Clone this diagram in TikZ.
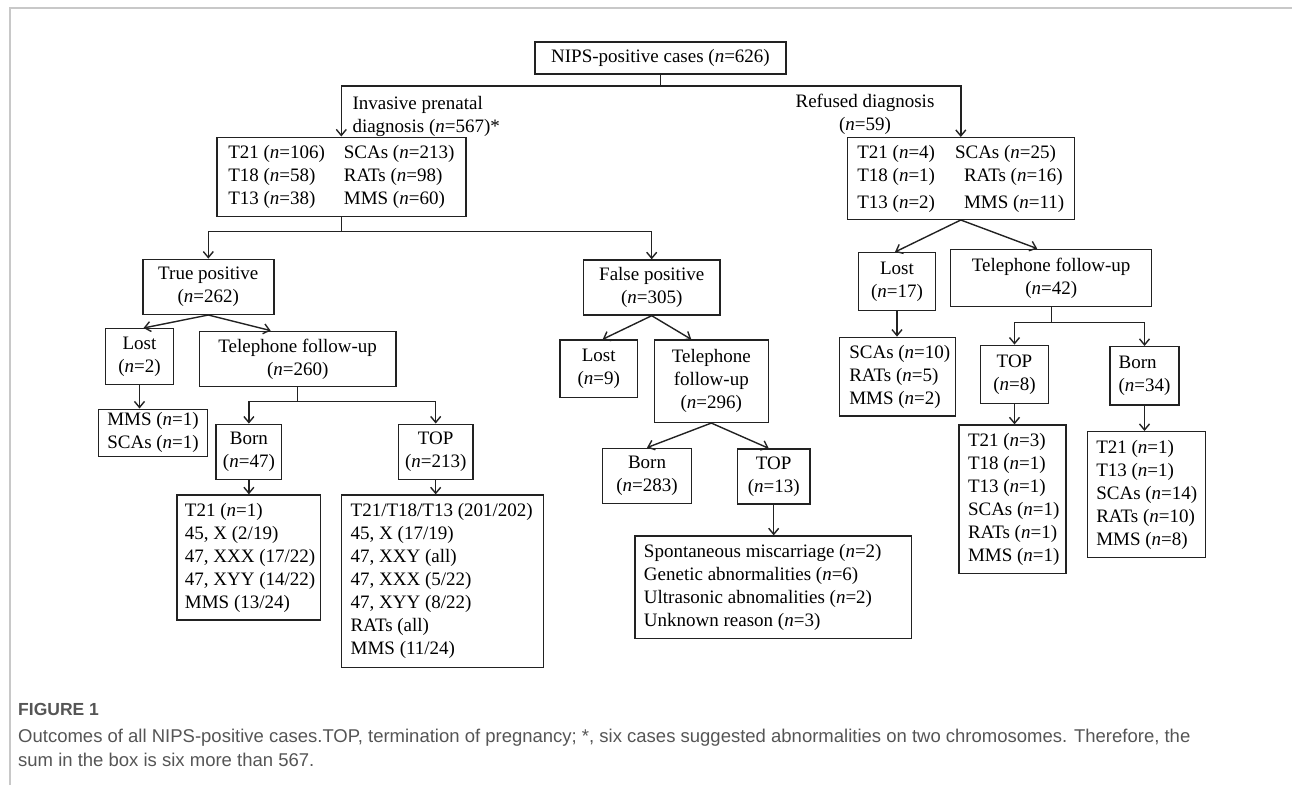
\documentclass[tikz,border=0pt]{standalone}
\usepackage{fontspec}
\setmainfont{Liberation Serif}
\newfontfamily\capfont{Liberation Sans}
\usetikzlibrary{arrows.meta,calc}
\newcommand{\Nn}[1]{(\textit{n}=#1)}
\newcommand{\boxlines}[2]{\makebox[#1][l]{\begin{tabular}{@{}l@{}}#2\end{tabular}}}
\definecolor{capgray}{HTML}{555555}
\definecolor{framegray}{HTML}{C8C8C8}
\definecolor{ink}{HTML}{222222}
\begin{document}
\begin{tikzpicture}[x=1pt,y=-1pt,
  box/.style={draw=ink, line width=1.4pt, inner sep=0pt, align=center, text=black,
              font=\fontsize{19}{23}\selectfont},
  lbox/.style={box, inner xsep=9pt, inner ysep=0pt},
  lbl/.style={inner sep=0pt, text=black, font=\fontsize{19}{23}\selectfont},
  ln/.style={draw=ink, line width=1.4pt},
  arr/.style={ln, -{Straight Barb[length=6pt,width=10pt]}},
  captext/.style={inner sep=0pt, text=capgray, anchor=base west}]
\useasboundingbox (0,0) rectangle (1292,785);
\draw[framegray, line width=2pt] (9.5,785) -- (9.5,7.5) -- (1292,7.5);

% top level
\node[box, minimum width=251pt, minimum height=32pt] (top) at (660.5,58) {NIPS-positive cases \Nn{626}};
\node[box, minimum width=249pt, minimum height=79pt] (inv) at (341.3,176.7)
  {\begin{tabular}{@{}p{115.6pt}@{}l@{}}T21 \Nn{106} & SCAs \Nn{213}\\ T18 \Nn{58} & RATs \Nn{98}\\ T13 \Nn{38} & MMS \Nn{60}\end{tabular}};
\node[box, minimum width=227pt, minimum height=81.6pt] (ref) at (960.8,178.5)
  {\begin{tabular}{@{}p{97.7pt}@{}l@{}}T21 \Nn{4} & SCAs \Nn{25}\\ T18 \Nn{1} & \hspace{9pt}RATs \Nn{16}\\[4pt] T13 \Nn{2} & \hspace{9pt}MMS \Nn{11}\end{tabular}};
\node[lbl, anchor=base west] (invlbl) at (352.3,109.3)
  {\begin{tabular}[t]{@{}l@{}}Invasive prenatal\\ diagnosis \Nn{567}*\end{tabular}};
\node[lbl, anchor=base] (reflbl) at (865,107.3)
  {\begin{tabular}[t]{@{}c@{}}Refused diagnosis\\ \Nn{59}\end{tabular}};

% true positive branch
\node[box, minimum width=131pt, minimum height=55pt] (tp) at (208.3,286.8) {True positive\\ \Nn{262}};
\node[box, minimum width=67.6pt, minimum height=55.6pt] (tp_lost) at (139.5,356.5) {Lost\\ \Nn{2}};
\node[box, minimum width=196.7pt, minimum height=55.4pt] (tp_tel) at (297.7,359) {Telephone follow-up\\ \Nn{260}};
\node[lbox, minimum height=47pt] (tp_mms) at (152.8,432.7)
  {\boxlines{91pt}{MMS \Nn{1}\\ SCAs \Nn{1}}};
\node[box, minimum width=65.7pt, minimum height=55pt] (tp_born) at (248.9,451.8) {Born\\ \Nn{47}};
\node[box, minimum width=74.7pt, minimum height=55pt] (tp_top) at (435.7,451.7) {TOP\\ \Nn{213}};
\node[lbox, minimum height=125pt, inner xsep=8pt] (tp_bornlist) at (248.8,557.5)
  {\boxlines{127.7pt}{T21 \Nn{1}\\ 45, X (2/19)\\ 47, XXX (17/22)\\ 47, XYY (14/22)\\ MMS (13/24)}};
\node[lbox, minimum height=172.3pt] (tp_toplist) at (442.5,581.2)
  {\boxlines{183.6pt}{T21/T18/T13 (201/202)\\ 45, X (17/19)\\ 47, XXY (all)\\ 47, XXX (5/22)\\ 47, XYY (8/22)\\ RATs (all)\\ MMS (11/24)}};

% false positive branch
\node[box, minimum width=136.7pt, minimum height=55pt] (fp) at (651.7,287.5) {False positive\\ \Nn{305}};
\node[box, minimum width=77.3pt, minimum height=57.7pt] (fp_lost) at (598.7,368.8) {Lost\\ \Nn{9}};
\node[box, minimum width=114pt, minimum height=82.3pt] (fp_tel) at (711.3,381.2) {Telephone\\ follow-up\\ \Nn{296}};
\node[box, minimum width=89.4pt, minimum height=55pt] (fp_born) at (647,475.8) {Born\\ \Nn{283}};
\node[box, minimum width=72.7pt, minimum height=55pt] (fp_top) at (773.7,476.5) {TOP\\ \Nn{13}};
\node[lbox, minimum height=102.3pt] (fp_reason) at (773.2,587.2)
  {\boxlines{258.5pt}{Spontaneous miscarriage \Nn{2}\\ Genetic abnormalities \Nn{6}\\ Ultrasonic abnomalities \Nn{2}\\ Unknown reason \Nn{3}}};

% refused branch
\node[box, minimum width=77.4pt, minimum height=58pt] (ref_lost) at (897,281.7) {Lost\\ \Nn{17}};
\node[box, minimum width=201pt, minimum height=57.4pt] (ref_tel) at (1051.2,278) {Telephone follow-up\\ \Nn{42}};
\node[lbox, minimum height=78.7pt, inner xsep=10pt] (ref_lostlist) at (897.5,376.7)
  {\boxlines{96.4pt}{SCAs \Nn{10}\\ RATs \Nn{5}\\ MMS \Nn{2}}};
\node[box, minimum width=67.6pt, minimum height=58pt] (ref_top) at (1014.5,374.3) {TOP\\ \Nn{8}};
\node[box, minimum width=69pt, minimum height=58.3pt, align=left] (ref_born) at (1144.5,375.8) {Born\\ \Nn{34}};
\node[lbox, minimum height=148.3pt] (ref_toplist) at (1012.5,499.2)
  {\boxlines{89pt}{T21 \Nn{3}\\ T18 \Nn{1}\\ T13 \Nn{1}\\ SCAs \Nn{1}\\ RATs \Nn{1}\\ MMS \Nn{1}}};
\node[lbox, minimum height=125.6pt] (ref_bornlist) at (1146.5,494.5)
  {\boxlines{100.4pt}{T21 \Nn{1}\\ T13 \Nn{1}\\ SCAs \Nn{14}\\ RATs \Nn{10}\\ MMS \Nn{8}}};

% connectors: top level
\coordinate (j1) at (660.5,86);
\draw[ln] (top.south) -- (j1);
\draw[arr] (j1) -| (inv.north);
\draw[arr] (j1) -| (ref.north);
\coordinate (j2) at (341.3,231.7);
\draw[ln] (inv.south) -- (j2);
\draw[arr] (j2) -| (tp.north);
\draw[arr] (j2) -| (fp.north);

% true positive
\draw[arr] (tp.south) -- ([xshift=4pt]tp_lost.north);
\draw[arr] (tp.south) -- ([xshift=72pt]tp_tel.north west);
\draw[arr] (tp_lost.south) -- (tp_lost.south |- tp_mms.north);
\coordinate (j3) at (297.7,401.7);
\draw[ln] (tp_tel.south) -- (j3);
\draw[arr] (j3) -| (tp_born.north);
\draw[arr] (j3) -| (tp_top.north);
\draw[arr] (tp_born.south) -- (tp_born.south |- tp_bornlist.north);
\draw[arr] (tp_top.south) -- (tp_top.south |- tp_toplist.north);

% false positive
\draw[arr] (fp.south) -- ([xshift=4pt]fp_lost.north);
\draw[arr] (fp.south) -- ([xshift=-20pt]fp_tel.north);
\draw[arr] (fp_tel.south) -- (fp_born.north);
\draw[arr] (fp_tel.south) -- ([xshift=-5pt]fp_top.north);
\draw[arr] (fp_top.south) -- (fp_top.south |- fp_reason.north);

% refused
\draw[arr] (ref.south) -- ([xshift=-2pt]ref_lost.north);
\draw[arr] (ref.south) -- ([xshift=-14pt]ref_tel.north);
\draw[arr] (ref_lost.south) -- (ref_lost.south |- ref_lostlist.north);
\coordinate (j4) at (1051.2,322.3);
\draw[ln] (ref_tel.south) -- (j4);
\draw[arr] (j4) -| (ref_top.north);
\draw[arr] (j4) -| (ref_born.north);
\draw[arr] (ref_top.south) -- (ref_top.south |- ref_toplist.north);
\draw[arr] (ref_born.south) -- (ref_born.south |- ref_bornlist.north);

% caption
\node[captext, font=\capfont\bfseries\fontsize{17.5}{21}\selectfont] (figlbl) at (18,715) {FIGURE 1};
\node[captext, font=\capfont\fontsize{18.5}{24}\selectfont] (cap1) at (18,742)
  {Outcomes of all NIPS-positive cases.TOP, termination of pregnancy; *, six cases suggested abnormalities on two chromosomes. Therefore, the};
\node[captext, font=\capfont\fontsize{18.5}{24}\selectfont] (cap2) at (18,766) {sum in the box is six more than 567.};
\end{tikzpicture}
\end{document}
